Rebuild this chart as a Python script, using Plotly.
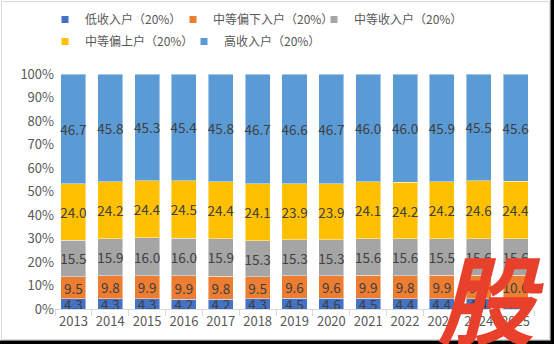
import plotly.graph_objects as go

# Income share by quintile group (%), 2013-2025
years = ["2013", "2014", "2015", "2016", "2017", "2018", "2019",
         "2020", "2021", "2022", "2023", "2024", "2025"]
low = [4.3, 4.3, 4.3, 4.2, 4.2, 4.3, 4.5, 4.6, 4.5, 4.4, 4.4, 4.4, 4.4]
lower_mid = [9.5, 9.8, 9.9, 9.9, 9.8, 9.5, 9.6, 9.6, 9.9, 9.8, 9.9, 9.9, 10.0]
middle = [15.5, 15.9, 16.0, 16.0, 15.9, 15.3, 15.3, 15.3, 15.6, 15.6, 15.5, 15.6, 15.6]
upper_mid = [24.0, 24.2, 24.4, 24.5, 24.4, 24.1, 23.9, 23.9, 24.1, 24.2, 24.2, 24.6, 24.4]
high = [46.7, 45.8, 45.3, 45.4, 45.8, 46.7, 46.6, 46.7, 46.0, 46.0, 45.9, 45.5, 45.6]

series_names = ["低收入户（20%）", "中等偏下入户（20%）", "中等收入户（20%）",
                "中等偏上户（20%）", "高收入户（20%）"]
series_values = [low, lower_mid, middle, upper_mid, high]
colors = ["#4472C4", "#ED7D31", "#A5A5A5", "#FFC000", "#5B9BD5"]

FONT = "Noto Sans CJK SC"

# figure and plot-area geometry in pixels
W, H = 554, 344
L, R, T, B = 55, 20, 74, 35
pw, ph = W - L - R, H - T - B


def px_x(x):
    return (x - L) / pw


def px_y(y):
    return (H - B - y) / ph


# each legend entry gets its own legend box: (left px, top px)
legend_slots = [(45, 5), (173, 5), (314, 5), (45, 27), (184, 27)]

fig = go.Figure()
for i, (name, vals, col) in enumerate(zip(series_names, series_values, colors)):
    lg = "legend" if i == 0 else f"legend{i + 1}"
    fig.add_trace(go.Bar(
        x=years, y=vals, name=name, legend=lg, showlegend=False,
        legendgroup=name,
        marker=dict(color=col, line=dict(color="rgba(255,255,255,0.45)", width=1)),
        text=vals, texttemplate="%{text:.1f}",
        textposition="inside", insidetextanchor="middle", textangle=0,
        constraintext="none",
        textfont=dict(family=FONT, size=13.5, color="#404040"),
        hoverinfo="skip",
    ))
    # small square legend key
    fig.add_trace(go.Scatter(
        x=[None], y=[None], mode="markers", name=name, legend=lg,
        legendgroup=name,
        marker=dict(symbol="square", size=7, color=col),
        hoverinfo="skip",
    ))

legend_defs = {}
for i, (lx, ly) in enumerate(legend_slots):
    key = "legend" if i == 0 else f"legend{i + 1}"
    legend_defs[key] = dict(
        orientation="h", xref="container", yref="container",
        x=lx / W, y=1 - ly / H, xanchor="left", yanchor="top",
        font=dict(family=FONT, size=12, color="#595959"),
        itemwidth=30, bgcolor="rgba(0,0,0,0)", borderwidth=0,
    )

fig.update_layout(
    width=W, height=H,
    margin=dict(l=L, r=R, t=T, b=B, autoexpand=False),
    barmode="stack", barnorm="percent", bargap=0.32,
    paper_bgcolor="white", plot_bgcolor="white",
    font=dict(family=FONT, color="#595959"),
    xaxis=dict(
        type="category", showline=True, linecolor="#D9D9D9", linewidth=1,
        ticks="outside", tickson="boundaries", ticklen=6, tickcolor="#D9D9D9",
        tickangle=0, automargin=False,
        tickfont=dict(family=FONT, size=13, color="#595959"),
        showgrid=False, fixedrange=True,
    ),
    yaxis=dict(
        range=[0, 100], dtick=10, ticksuffix="%", showgrid=False,
        showline=False, zeroline=False, automargin=False,
        tickfont=dict(family=FONT, size=13, color="#595959"),
        fixedrange=True,
    ),
    shapes=[
        dict(type="rect", xref="paper", yref="paper",
             x0=px_x(1.5), x1=px_x(549.5), y0=px_y(339.5), y1=px_y(1.5),
             line=dict(color="#D9D9D9", width=1), layer="below"),
        dict(type="rect", xref="paper", yref="paper",
             x0=px_x(550.5), x1=px_x(560), y0=px_y(350), y1=px_y(-5),
             line=dict(width=0), fillcolor="black"),
        dict(type="rect", xref="paper", yref="paper",
             x0=px_x(-5), x1=px_x(560), y0=px_y(350), y1=px_y(340.5),
             line=dict(width=0), fillcolor="black"),
    ],
    annotations=[
        dict(text="股", xref="paper", yref="paper",
             x=px_x(490), y=px_y(295), xanchor="center", yanchor="middle",
             showarrow=False,
             font=dict(family=FONT, size=98, color="#E8402A",
                       weight="bold", style="italic")),
    ],
    **legend_defs,
)

fig.write_html("out.html")
